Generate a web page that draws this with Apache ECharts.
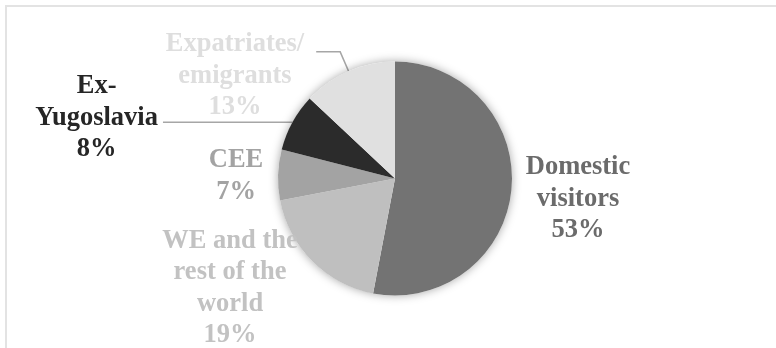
<!DOCTYPE html>
<html>
<head>
<meta charset="utf-8">
<script src="https://cdn.jsdelivr.net/npm/echarts@6/dist/echarts.min.js"></script>
<style>
  body { margin: 0; background: #fff; }
  #frame { position: absolute; left: 5px; top: 5px; width: 780px; height: 360px; border: 2px solid #e3e3e3; }
  #main { position: absolute; left: 0; top: 0; width: 776px; height: 348px; }
</style>
</head>
<body>
<div id="frame"></div>
<div id="main"></div>
<script>
// data
const categories = ['Domestic visitors', 'WE and the rest of the world', 'CEE', 'Ex-Yugoslavia', 'Expatriates/ emigrants'];
const labelLines = [['Domestic', 'visitors'], ['WE and the', 'rest of the', 'world'], ['CEE'], ['Ex-', 'Yugoslavia'], ['Expatriates/', 'emigrants']];
const shares = [53, 19, 7, 8, 13];

const sliceColors = ['#737373', '#bfbfbf', '#a3a3a3', '#2b2b2b', '#e0e0e0'];
const textColors = ['#6b6b6b', '#c2c2c2', '#a3a3a3', '#262626', '#dedede'];
// free-standing labels are placed by hand, the two with leader lines follow the pie layout
const labelSpots = [[578, 199], [230, 288], [236, 176], null, null];
const leader = [null, null, null, { length: 0, length2: 129.5, padding: [0, 0, 8, 0] }, { length: 21, length2: 24, padding: [48, 7, 0, 0] }];

const font = {
    fontFamily: 'Liberation Serif, Times New Roman, serif',
    fontWeight: 'bold',
    fontSize: 26.5,
    lineHeight: 31.5
};

const chart = echarts.init(document.getElementById('main'), null, { renderer: 'canvas' });
const total = shares.reduce((a, b) => a + b, 0);

const option = {
    animation: false,
    series: [
        {
            // soft shadow under the pie
            type: 'pie',
            silent: true,
            center: [395, 178.5],
            radius: 117,
            label: { show: false },
            labelLine: { show: false },
            itemStyle: { color: '#fff', shadowBlur: 10, shadowColor: 'rgba(0,0,0,0.35)' },
            data: [{ value: total, name: 'bg' }]
        },
        {
            type: 'pie',
            center: [395, 178.5],
            radius: 117,
            startAngle: 90,
            clockwise: true,
            avoidLabelOverlap: false,
            label: Object.assign({
                show: true,
                position: 'outside',
                alignTo: 'none',
                bleedMargin: 0,
                formatter: p => labelLines[p.dataIndex].concat([p.percent + '%']).map(t => '{c|' + t + '}').join('\n')
            }, font),
            labelLine: {
                show: true,
                lineStyle: { color: '#a6a6a6', width: 1.5 }
            },
            labelLayout: p => {
                const s = labelSpots[p.dataIndex];
                if (!s) return {};
                return { x: s[0], y: s[1], align: 'center', verticalAlign: 'middle' };
            },
            data: categories.map((c, i) => {
                const l = leader[i];
                return {
                    name: c,
                    value: shares[i],
                    itemStyle: { color: sliceColors[i] },
                    label: {
                        color: textColors[i],
                        padding: l ? l.padding : 0,
                        rich: { c: Object.assign({ align: 'center', color: textColors[i] }, font) }
                    },
                    labelLine: l ? { show: true, length: l.length, length2: l.length2 } : { show: false }
                };
            })
        }
    ]
};

chart.setOption(option);
</script>
</body>
</html>
